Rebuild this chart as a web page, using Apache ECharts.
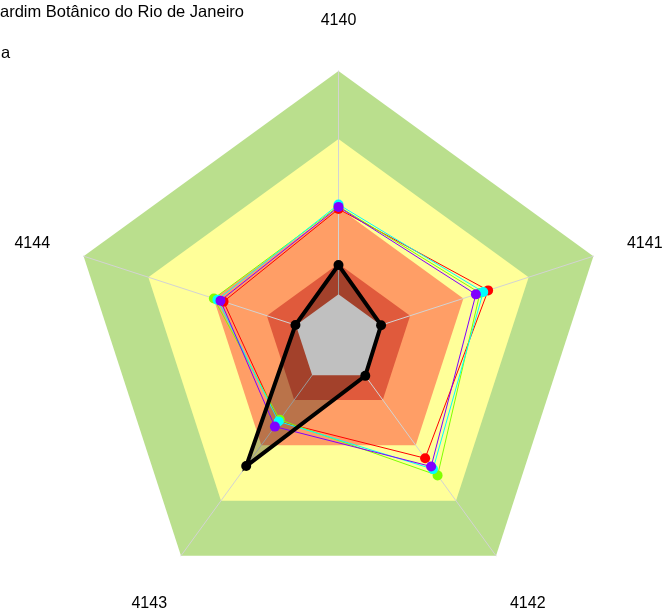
<!DOCTYPE html>
<html><head><meta charset="utf-8">
<script src="https://cdn.jsdelivr.net/npm/echarts@6/dist/echarts.min.js"></script>
<style>html,body{margin:0;padding:0;background:#fff}#c{width:664px;height:612px}</style>
</head><body><div id="c"></div>
<script>
// Indicators in clockwise order starting at the top (as in the reference)
const indicators = ['4140', '4141', '4142', '4143', '4144'];
// Background band limits (percent of radius) and colours
const bandLimits = [100, 74.6, 49, 28.1];
const bandColors = ['#BADF8D', '#FFFF99', '#FF9E66', '#E05A3C'];
const centerLimit = 16.7;
const centerColor = '#C0C0C0';
// Series values (same order as indicators)
const redValues = [48.5, 58.7, 55.0, 38.0, 45.1];
const greenValues = [49.5, 55.5, 62.9, 37.3, 48.9];
const cyanValues = [50.2, 56.8, 60.0, 38.0, 47.5];
const purpleValues = [49.3, 53.9, 58.8, 40.4, 46.3];
const blackValues = [27.6, 16.7, 17.0, 58.6, 16.9];
const seriesColors = ['#FF0000', '#80FF00', '#00FFFF', '#8000FF'];
const titleLines = ['ardim Botânico do Rio de Janeiro', 'a'];

// ECharts lays indicators counter-clockwise; reorder to get the clockwise layout
const ccw = v => [v[0], v[4], v[3], v[2], v[1]];
const font = "'Liberation Sans', Arial, sans-serif";

const chart = echarts.init(document.getElementById('c'), null, {renderer: 'canvas'});
const colored = [redValues, greenValues, cyanValues, purpleValues];

const series = [];
series.push({
  type: 'radar', z: 1, silent: true, symbol: 'none',
  data: bandLimits.map((l, i) => ({
    value: indicators.map(() => l),
    lineStyle: {width: 0, opacity: 0},
    areaStyle: {color: bandColors[i], opacity: 1}
  }))
});
series.push({
  type: 'radar', z: 3, silent: true, symbol: 'none',
  data: [{value: ccw(blackValues), lineStyle: {width: 0, opacity: 0},
          areaStyle: {color: 'rgba(0,0,0,0.27)', opacity: 1}}]
});
series.push({
  type: 'radar', z: 4, silent: true, symbol: 'none',
  data: [{value: indicators.map(() => centerLimit), lineStyle: {width: 0, opacity: 0},
          areaStyle: {color: centerColor, opacity: 1}}]
});
colored.forEach((vals, i) => {
  series.push({
    type: 'radar', z: 5 + i, symbol: 'circle', symbolSize: 10,
    data: [{value: ccw(vals),
            lineStyle: {color: seriesColors[i], width: 1},
            itemStyle: {color: seriesColors[i]}}]
  });
});
series.push({
  type: 'radar', z: 10, symbol: 'circle', symbolSize: 10,
  data: [{value: ccw(blackValues),
          lineStyle: {color: '#000', width: 4, join: 'miter'},
          itemStyle: {color: '#000'}}]
});

chart.setOption({
  animation: false,
  backgroundColor: '#fff',
  title: [
    {text: titleLines[0], left: 0, top: 4, padding: 0,
     textStyle: {fontFamily: font, fontSize: 16.5, fontWeight: 'normal', color: '#000'}},
    {text: titleLines[1], left: 1, top: 45, padding: 0,
     textStyle: {fontFamily: font, fontSize: 16.5, fontWeight: 'normal', color: '#000'}}
  ],
  radar: {
    z: 2,
    center: [338.5, 339],
    radius: 268,
    shape: 'polygon',
    splitNumber: 1,
    nameGap: 54,
    axisName: {
      color: '#000', fontSize: 16, fontFamily: font, align: 'center', verticalAlign: 'middle',
      formatter: '{n|{value}}',
      rich: {n: {color: '#000', fontSize: 16, fontFamily: font, padding: [8, 0, 0, 0]}}
    },
    axisLine: {show: true, lineStyle: {color: '#D3D3D3', width: 1}},
    splitLine: {show: false},
    splitArea: {show: false},
    indicator: ccw(indicators).map(n => ({name: n, min: 0, max: 100}))
  },
  series: series
});
</script>
</body></html>
